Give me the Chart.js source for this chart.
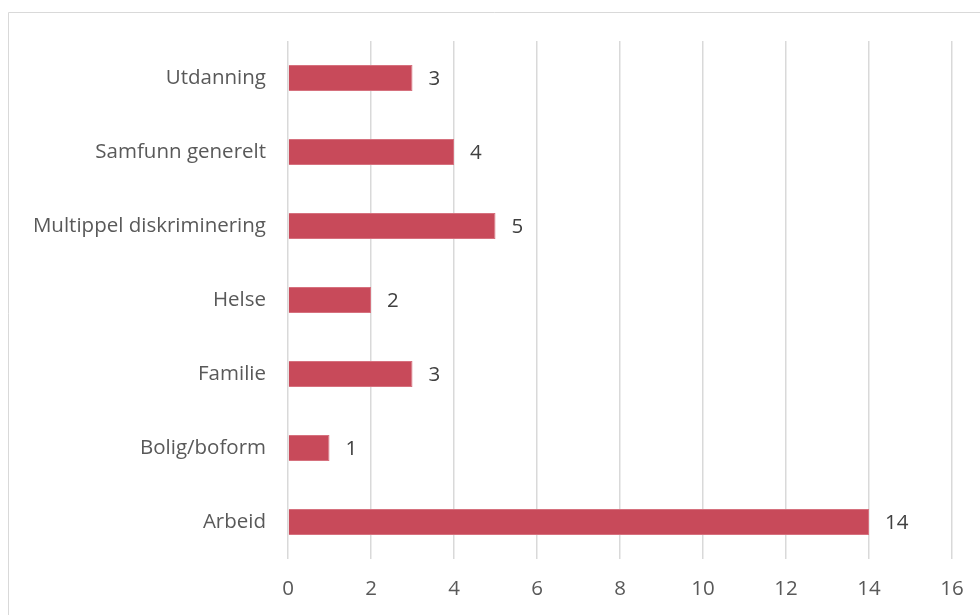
<!DOCTYPE html>
<html><head><meta charset="utf-8">
<script src="https://cdn.jsdelivr.net/npm/chart.js@4/dist/chart.umd.min.js"></script>
<style>html,body{margin:0;padding:0;background:#fff;}#wrap{width:980px;height:615px;position:relative;}</style>
</head><body><div id="wrap"><canvas id="c" width="980" height="615"></canvas></div>
<script>
const categories = ["Utdanning","Samfunn generelt","Multippel diskriminering","Helse","Familie","Bolig/boform","Arbeid"];
const values = [3,4,5,2,3,1,14];
const xTicks = [0,2,4,6,8,10,12,14,16];

const FONT = "'Open Sans', Lato, sans-serif";
const FSIZE = 20.5;

const borderPlugin = {
  id: 'outerBorder',
  beforeDraw(chart) {
    const ctx = chart.ctx;
    ctx.save();
    ctx.strokeStyle = '#d9d9d9';
    ctx.lineWidth = 1;
    ctx.beginPath();
    ctx.moveTo(8.5, 615);
    ctx.lineTo(8.5, 12.5);
    ctx.lineTo(980, 12.5);
    ctx.stroke();
    ctx.restore();
  }
};

const labelPlugin = {
  id: 'valueLabels',
  afterDatasetsDraw(chart) {
    const ctx = chart.ctx;
    const meta = chart.getDatasetMeta(0);
    ctx.save();
    ctx.fillStyle = '#404040';
    ctx.font = FSIZE + "px " + FONT;
    ctx.textAlign = 'left';
    ctx.textBaseline = 'middle';
    meta.data.forEach((bar, i) => {
      ctx.fillText(String(values[i]), bar.x + 16, bar.y + 1);
    });
    ctx.restore();
  }
};

new Chart(document.getElementById('c'), {
  type: 'bar',
  data: {
    labels: categories,
    datasets: [{
      data: values,
      backgroundColor: '#c84a5a',
      borderColor: '#d6717e',
      borderWidth: 1,
      borderSkipped: 'left',
      barPercentage: 0.7,
      categoryPercentage: 0.5
    }]
  },
  options: {
    indexAxis: 'y',
    responsive: false,
    animation: false,
    layout: { padding: { left: 0, right: 28, top: 41, bottom: 0 } },
    plugins: { legend: { display: false }, tooltip: { enabled: false } },
    scales: {
      x: {
        min: 0, max: 16,
        afterBuildTicks(scale) { scale.ticks = xTicks.map(v => ({ value: v })); },
        grid: { color: '#d9d9d9', lineWidth: 1.5, drawTicks: false },
        border: { display: false },
        ticks: { color: '#595959', font: { family: FONT, size: FSIZE }, padding: 18 },
        afterFit(scale) { scale.height = 56; scale.paddingRight = 0; scale.paddingLeft = 0; }
      },
      y: {
        grid: { display: false, drawTicks: false },
        border: { display: false },
        ticks: { color: '#595959', font: { family: FONT, size: FSIZE }, padding: 22 },
        afterFit(scale) { scale.width = 288; scale.paddingTop = 0; scale.paddingBottom = 0; }
      }
    }
  },
  plugins: [borderPlugin, labelPlugin]
});
</script>
</body></html>
